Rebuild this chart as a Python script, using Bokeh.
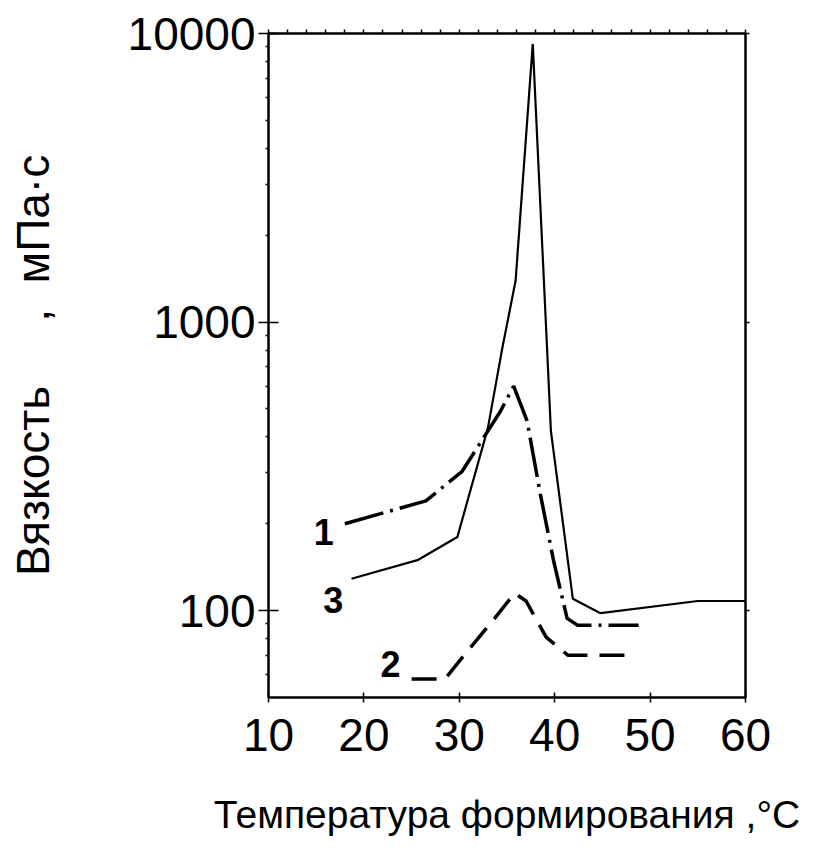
from bokeh.plotting import figure
from bokeh.models import Range1d, FixedTicker, LinearAxis, LogAxis, Label
from bokeh.embed import file_html
from bokeh.resources import INLINE

# ---- data ----
temp_1 = [18.0, 26.5, 30.3, 34.3, 35.7, 37.1, 38.5, 39.9, 41.3, 42.4, 48.8]
visc_1 = [200, 240, 304, 490, 600, 455, 253, 148, 94, 89, 89]

temp_2 = [25.0, 28.5, 30.5, 33.7, 35.8, 37.0, 39.1, 41.4, 48.0]
visc_2 = [58, 58, 70, 94, 115, 108, 81, 70, 70]

temp_3 = [18.7, 25.7, 29.8, 33.0, 34.5, 35.9, 37.7, 39.2, 39.6, 41.9, 44.8, 55.0, 60.0]
visc_3 = [129, 150, 180, 430, 810, 1390, 9200, 810, 420, 110, 98, 108, 108]

x_ticks = [10, 20, 30, 40, 50, 60]
y_ticks = [100, 1000, 10000]
y_minor = [60, 70, 80, 90, 200, 300, 400, 500, 600, 700, 800, 900,
           2000, 3000, 4000, 5000, 6000, 7000, 8000, 9000]
top_ticks = list(range(10, 61, 2))

curve_labels = ["1", "2", "3"]
label_x = [15.8, 22.8, 16.8]
label_y = [188, 65.5, 109]

FONT = "Liberation Sans"

p = figure(width=812, height=841,
           x_range=Range1d(10, 60), y_range=Range1d(50, 10000),
           y_axis_type="log", output_backend="svg", toolbar_location=None,
           min_border_left=268, min_border_right=67,
           min_border_top=33, min_border_bottom=144)
p.grid.visible = False
p.outline_line_color = "black"
p.outline_line_width = 2
p.background_fill_color = "white"
p.border_fill_color = "white"

# bottom axis
xa = p.xaxis[0]
xa.ticker = FixedTicker(ticks=x_ticks)
xa.major_tick_in = 5
xa.major_tick_out = 5
xa.minor_tick_in = 0
xa.minor_tick_out = 0
xa.axis_line_width = 2
xa.major_tick_line_width = 1.5
xa.major_label_text_font = FONT
xa.major_label_text_font_size = "46px"
xa.major_label_text_color = "black"
xa.major_label_standoff = 16
xa.axis_label = "Температура формирования ,°C"
xa.axis_label_text_font = FONT
xa.axis_label_text_font_size = "39px"
xa.axis_label_text_font_style = "normal"
xa.axis_label_text_color = "black"
xa.axis_label_standoff = 39

# left axis
ya = p.yaxis[0]
ya.ticker = FixedTicker(ticks=y_ticks, minor_ticks=y_minor)
ya.major_tick_in = 10
ya.major_tick_out = 10
ya.minor_tick_in = 0
ya.minor_tick_out = 3
ya.axis_line_width = 2
ya.major_tick_line_width = 1.5
ya.minor_tick_line_width = 1.5
ya.major_label_text_font = FONT
ya.major_label_text_font_size = "46px"
ya.major_label_text_color = "black"
ya.major_label_standoff = 3
ya.major_label_overrides = {100: "100", 1000: "1000", 10000: "10000"}
ya.axis_label = "Вязкость\u00a0\u00a0\u00a0\u00a0\u00a0,\u00a0\u00a0мПа·с"
ya.axis_label_text_font = FONT
ya.axis_label_text_font_size = "46px"
ya.axis_label_text_font_style = "normal"
ya.axis_label_text_color = "black"
ya.axis_label_standoff = 66

# top axis with small ticks (labels hidden)
top = LinearAxis(ticker=FixedTicker(ticks=top_ticks),
                 major_tick_in=0, major_tick_out=4, minor_tick_out=0, minor_tick_in=0,
                 major_label_text_font_size="1px", major_label_text_color=None,
                 axis_line_width=2, major_tick_line_width=1.5, major_label_standoff=0)
p.add_layout(top, "above")

# right axis with small ticks (labels hidden)
right = LogAxis(ticker=FixedTicker(ticks=y_ticks),
                major_tick_in=0, major_tick_out=4, minor_tick_out=0, minor_tick_in=0,
                major_label_text_font_size="1px", major_label_text_color=None,
                axis_line_width=2, major_tick_line_width=1.5, major_label_standoff=0)
p.add_layout(right, "right")

# curves
p.line(temp_1, visc_1, line_color="black", line_width=3.5, line_dash="40 7 3 7")
p.line(temp_2, visc_2, line_color="black", line_width=3.5, line_dash="25 12")
p.line(temp_3, visc_3, line_color="black", line_width=2.2)

for t, lx, ly in zip(curve_labels, label_x, label_y):
    p.add_layout(Label(x=lx, y=ly, text=t, text_font=FONT, text_font_size="36px",
                       text_font_style="bold", text_align="center",
                       text_baseline="middle", text_color="black"))

open("out.html", "w").write(file_html(p, INLINE))
